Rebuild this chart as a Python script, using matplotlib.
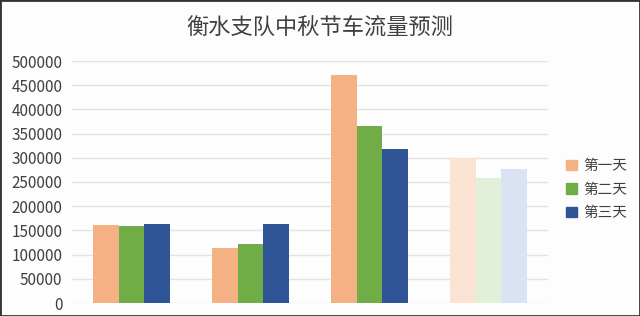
import numpy as np
import matplotlib.pyplot as plt
from matplotlib.patches import Rectangle

plt.rcParams['font.family'] = ['Noto Sans CJK SC', 'DejaVu Sans']

years = ["2018年", "2019年", "2020年", "2021年"]
series = ["第一天", "第二天", "第三天"]
day1 = [161000, 114000, 471000, 300000]
day2 = [159000, 122000, 366000, 258000]
day3 = [163000, 163000, 318000, 277000]
yticks = list(range(0, 500001, 50000))

colors = ["#F4B183", "#70AD47", "#2F5597"]
faded = ["#FBE3D3", "#E2F0D9", "#D9E3F4"]

fig = plt.figure(figsize=(6.4, 3.16), dpi=100)
fig.patch.set_facecolor("#FDFDFE")
ax = fig.add_axes([72/640, 1 - 303/316, 476/640, 242/316])
ax.set_facecolor("#FDFDFE")

x = np.arange(len(years)) + 0.5
w = 0.215
for i, vals in enumerate([day1, day2, day3]):
    cols = [colors[i]] * (len(years) - 1) + [faded[i]]
    ax.bar(x + (i - 1) * w, vals, width=w, color=cols, label=series[i], zorder=2)

ax.set_xlim(0, len(years))
ax.set_ylim(0, 500000)
ax.set_yticks(yticks)
ax.set_yticklabels([str(v) for v in yticks], fontsize=11, color="#404040")
ax.set_xticks(x)
ax.set_xticklabels(years, fontsize=11, color="#7f7f7f")
ax.tick_params(length=0)
ax.tick_params(axis='x', pad=9)
ax.tick_params(axis='y', pad=7)
ax.grid(axis='y', color="#E3E3E6", lw=1, zorder=0)
for s in ax.spines.values():
    s.set_visible(False)

handles = [Rectangle((0, 0), 1, 1, color=c) for c in colors]
fig.legend(handles, series, loc="upper left", bbox_to_anchor=(553/640, 1 - 146/316),
           frameon=False, fontsize=10.5, handlelength=0.75, handleheight=0.75,
           handletextpad=0.4, labelspacing=0.65, labelcolor="#404040")

fig.suptitle("衡水支队中秋节车流量预测", y=1 - 28/316, va="center", fontsize=16,
             fontweight="light", color="#404040")

fig.add_artist(Rectangle((0, 0), 1, 1, transform=fig.transFigure, fill=False,
                         edgecolor="#333333", lw=2))

fig.savefig("out.png", dpi=100)
